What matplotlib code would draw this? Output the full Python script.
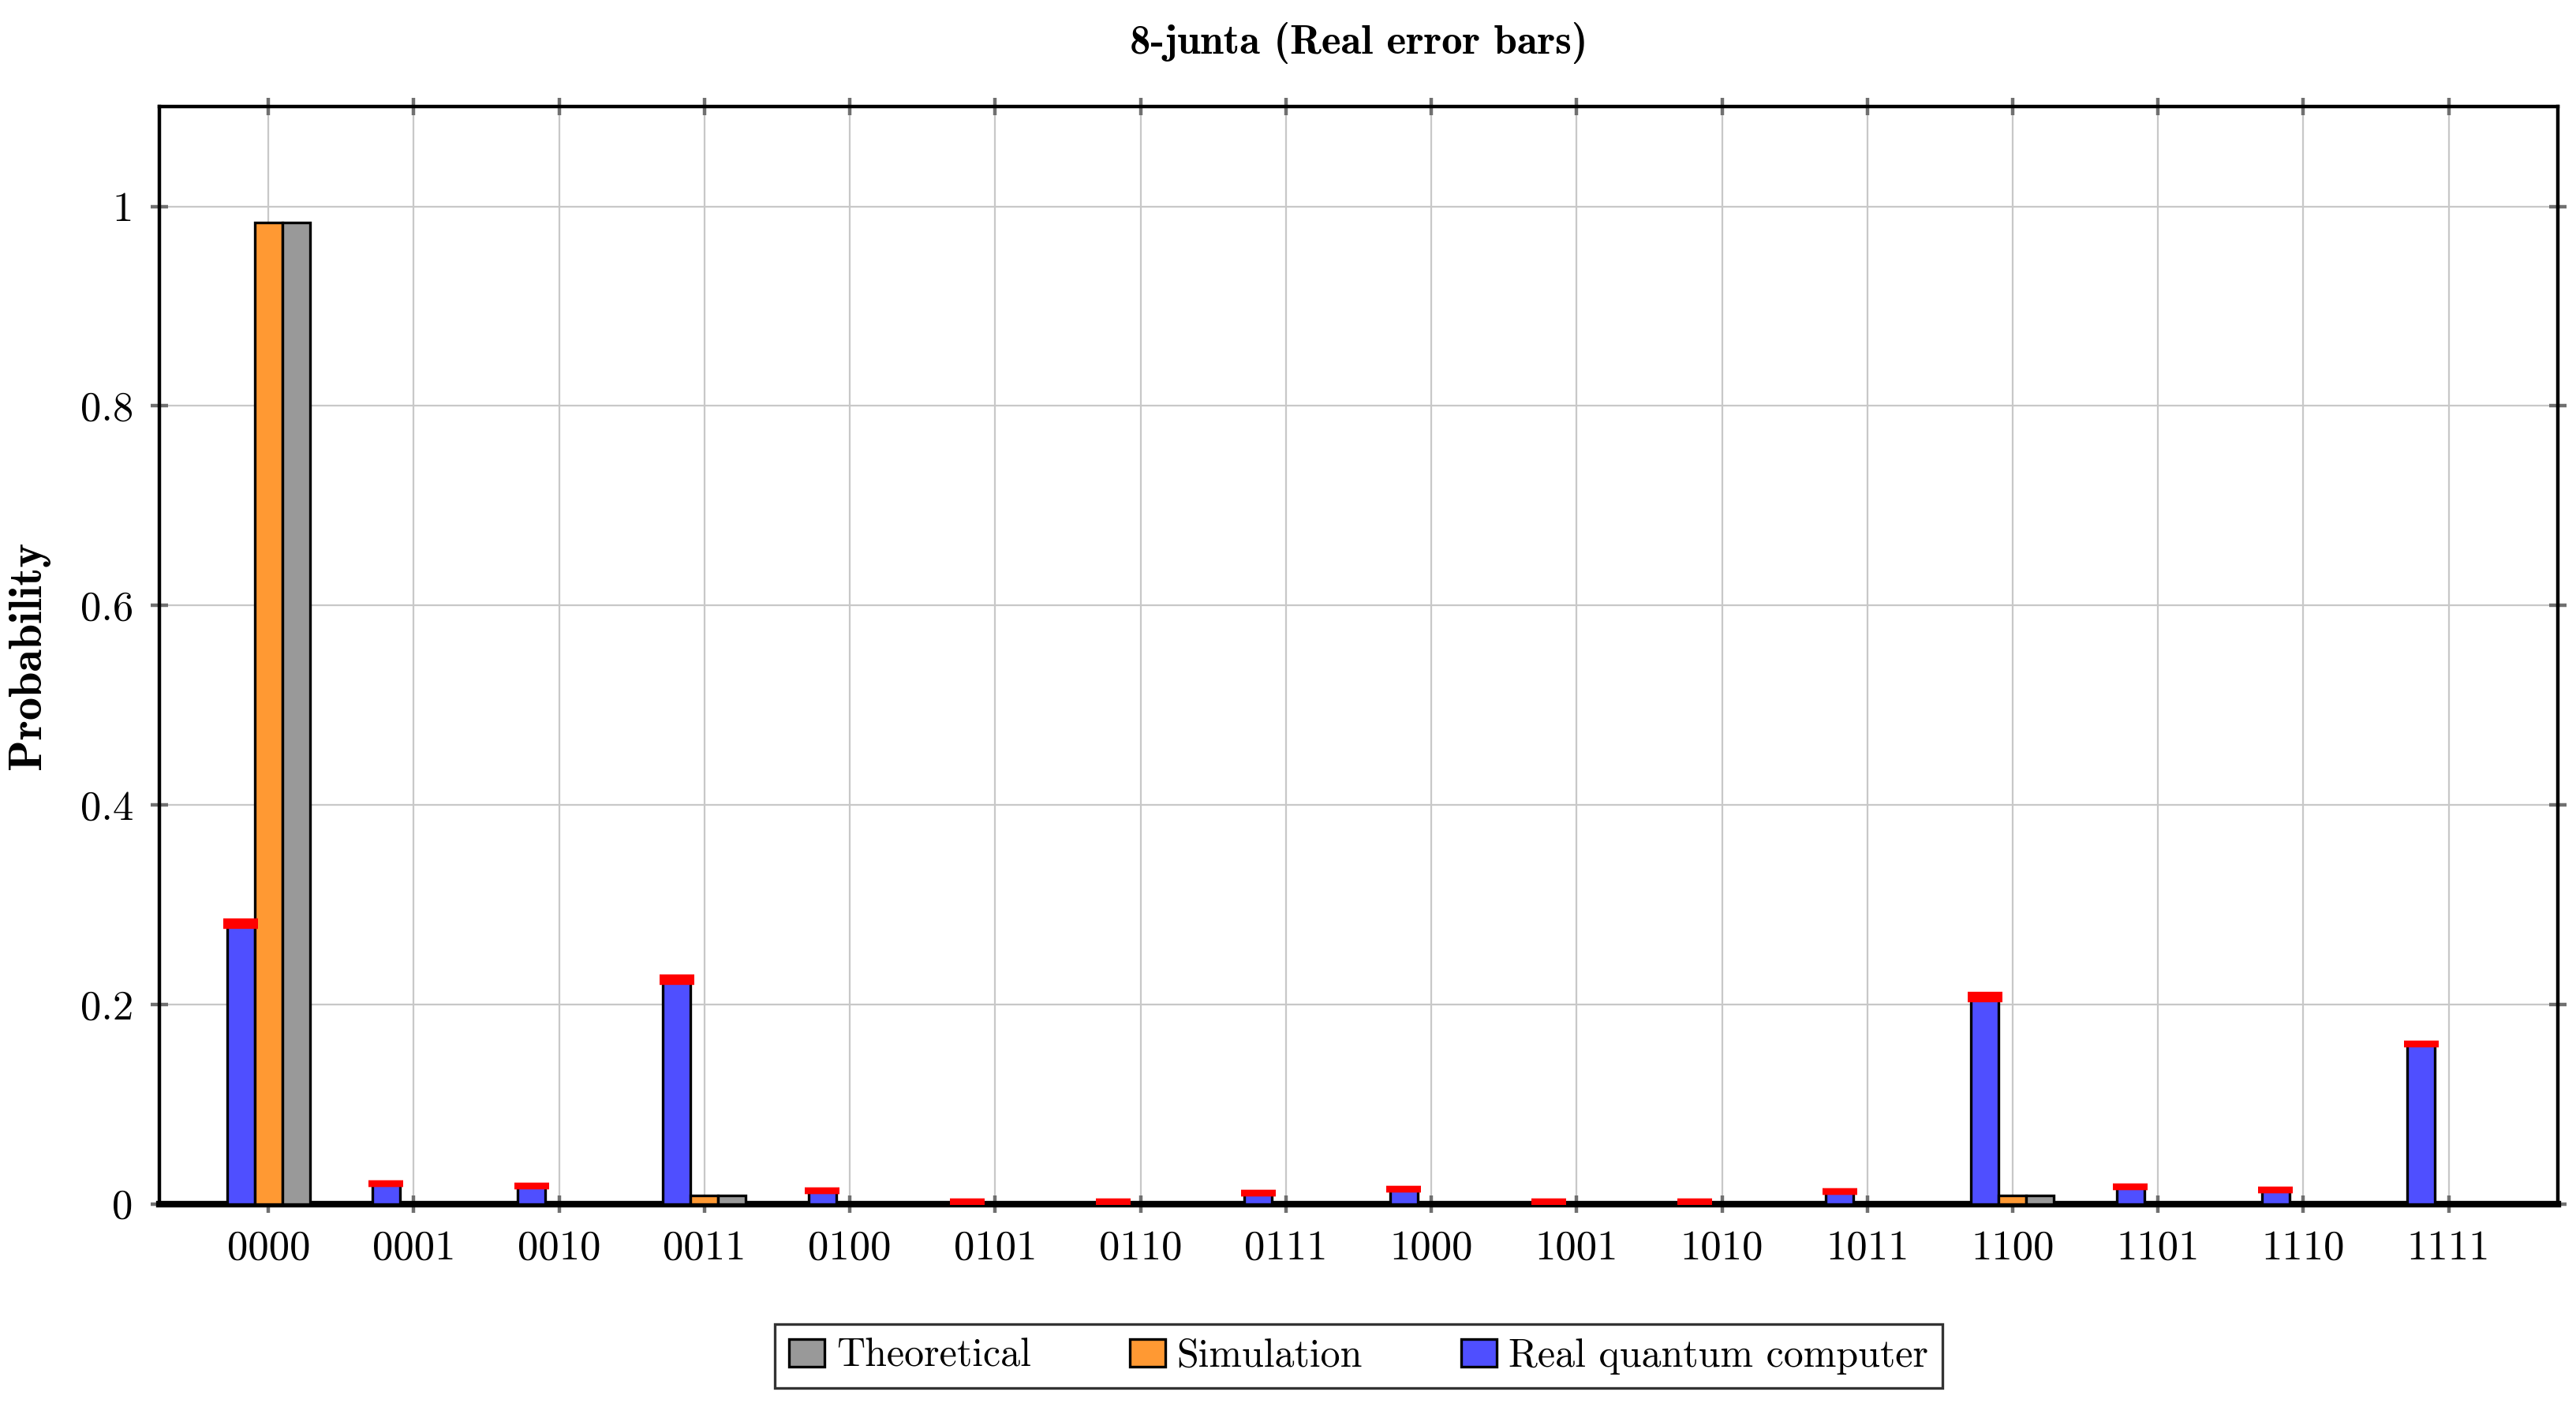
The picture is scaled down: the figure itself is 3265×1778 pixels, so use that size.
import matplotlib
matplotlib.use("Agg")
import matplotlib.pyplot as plt
import numpy as np

# 数据
labels = ['0000', '0001', '0010', '0011', '0100', '0101', '0110', '0111',
          '1000', '1001', '1010', '1011', '1100', '1101', '1110', '1111']
real = [0.281, 0.020, 0.018, 0.2246, 0.013, 0.002, 0.002, 0.011,
        0.015, 0.002, 0.002, 0.012, 0.207, 0.017, 0.014, 0.160]
real_err = [0.002, 0, 0, 0.002, 0, 0, 0, 0, 0, 0, 0, 0, 0.002, 0, 0, 0]
sim = [0.984, 0, 0, 0.008, 0, 0, 0, 0, 0, 0, 0, 0, 0.008, 0, 0, 0]
theo = [0.984, 0, 0, 0.008, 0, 0, 0, 0, 0, 0, 0, 0, 0.008, 0, 0, 0]

plt.rcParams['font.family'] = 'cmr10'
plt.rcParams['mathtext.fontset'] = 'cm'
plt.rcParams['axes.formatter.use_mathtext'] = True

fig = plt.figure(figsize=(16.325, 8.89), dpi=200)
ax = fig.add_axes([0.0619, 0.142, 0.931, 0.782])

x = np.arange(len(labels))
w = 0.19
ax.bar(x - w, real, w, color='#4f4fff', edgecolor='black', linewidth=1.2,
       label='Real quantum computer', zorder=3)
ax.bar(x, sim, w, color='#ff9933', edgecolor='black', linewidth=1.2,
       label='Simulation', zorder=3)
ax.bar(x + w, theo, w, color='#999999', edgecolor='black', linewidth=1.2,
       label='Theoretical', zorder=3)
ax.errorbar(x - w, real, yerr=real_err, fmt='none', ecolor='red',
            elinewidth=1, capsize=8, capthick=3, zorder=4)

ax.set_xlim(-0.75, 15.75)
ax.set_ylim(0, 1.1)
ax.set_xticks(x)
ax.set_xticklabels(labels)
ax.set_yticks([0, 0.2, 0.4, 0.6, 0.8, 1])
ax.set_yticklabels(['0', '0.2', '0.4', '0.6', '0.8', '1'])
ax.tick_params(labelsize=19, color='#707070', width=1.6, length=8,
               direction='inout', top=True, right=True, pad=8)
ax.grid(True, color='#c8c8c8', linewidth=0.8, zorder=0)
for s in ax.spines.values():
    s.set_linewidth(1.6)
ax.spines['bottom'].set_linewidth(3)

ax.set_ylabel('Probability', fontsize=21, fontfamily='cmb10', labelpad=14)
ax.set_title('8-junta (Real error bars)', fontsize=19, fontfamily='cmb10', pad=24)

h, l = ax.get_legend_handles_labels()
leg = ax.legend(h[::-1], l[::-1], loc='upper center', bbox_to_anchor=(0.5, -0.092),
                ncol=3, fontsize=18, frameon=True, fancybox=False,
                edgecolor='black', handlelength=0.9, handletextpad=0.3,
                columnspacing=2.5, borderpad=0.35)
leg.get_frame().set_linewidth(1.2)

fig.savefig('out.png', dpi=200)
